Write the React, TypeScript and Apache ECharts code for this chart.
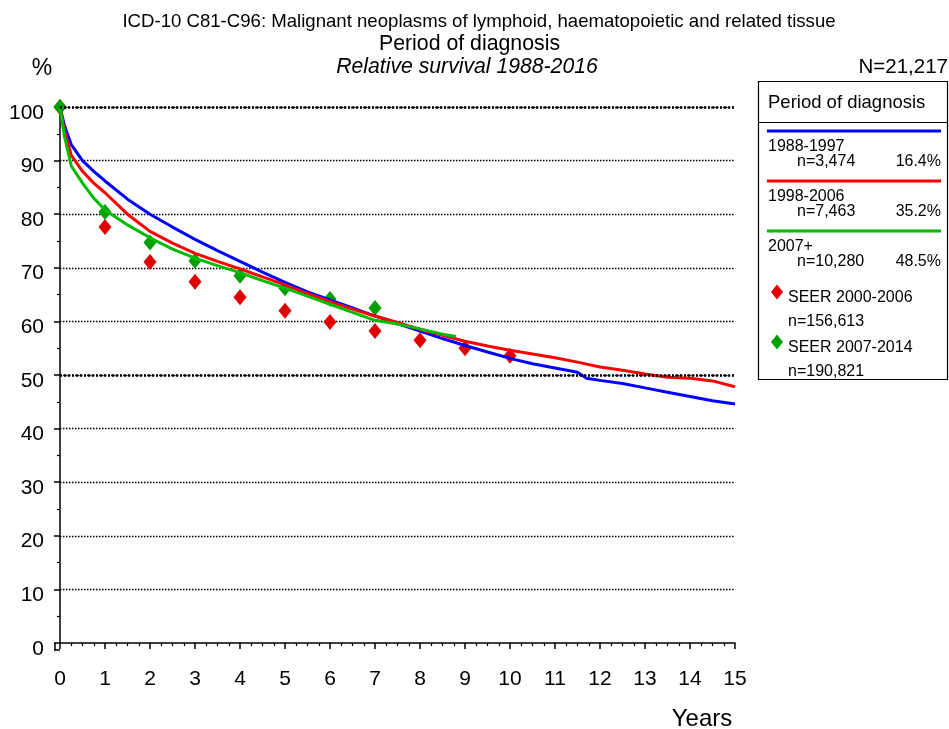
import React, { useEffect, useRef } from "react";
import * as echarts from "echarts";

const TITLE_LINE1 = "ICD-10 C81-C96: Malignant neoplasms of lymphoid, haematopoietic and related tissue";
const TITLE_LINE2 = "Period of diagnosis";
const TITLE_LINE3 = "Relative survival 1988-2016";
const Y_UNIT = "%";
const TOTAL_N = "N=21,217";
const X_NAME = "Years";

const period1988Years = [0, 0.1, 0.25, 0.5, 0.75, 1, 1.5, 2, 2.5, 3, 3.5, 4, 4.5, 5, 5.5, 6, 6.5, 7, 7.5, 8, 8.5, 9, 9.5, 10, 10.5, 11, 11.5, 11.7, 12, 12.5, 13, 13.5, 14, 14.5, 15];
const period1988Values = [100, 96.5, 93, 90, 88, 86.2, 82.8, 80, 77.6, 75.3, 73.2, 71.2, 69.2, 67.3, 65.5, 64, 62.5, 61, 59.6, 58.2, 56.8, 55.5, 54.3, 53.1, 52.1, 51.3, 50.5, 49.4, 49, 48.4, 47.6, 46.8, 46, 45.2, 44.6];

const period1998Years = [0, 0.1, 0.25, 0.5, 0.75, 1, 1.5, 2, 2.5, 3, 3.5, 4, 4.5, 5, 5.5, 6, 6.5, 7, 7.5, 8, 8.5, 9, 9.5, 10, 10.5, 11, 11.5, 12, 12.5, 13, 13.5, 14, 14.5, 15];
const period1998Values = [100, 95.5, 91, 88, 85.8, 84, 80, 76.8, 74.6, 72.7, 71.2, 69.8, 68.3, 66.8, 65.2, 63.7, 62.3, 61, 59.8, 58.5, 57.4, 56.3, 55.4, 54.6, 53.9, 53.2, 52.4, 51.5, 50.9, 50.2, 49.6, 49.4, 48.9, 47.8];

const period2007Years = [0, 0.1, 0.25, 0.5, 0.75, 1, 1.5, 2, 2.5, 3, 3.5, 4, 4.5, 5, 5.5, 6, 6.5, 7, 7.5, 8, 8.5, 8.8];
const period2007Values = [100, 94.5, 89, 85.8, 83, 80.8, 78, 75.6, 73.5, 71.8, 70.4, 69.1, 67.6, 66.2, 64.7, 63.2, 61.7, 60.2, 59.5, 58.6, 57.6, 57.2];

const seer2000Years = [0, 1, 2, 3, 4, 5, 6, 7, 8, 9, 10];
const seer2000Values = [100, 77.6, 71.1, 67.4, 64.5, 62, 59.9, 58.2, 56.5, 55, 53.6];

const seer2007Years = [0, 1, 2, 3, 4, 5, 6, 7];
const seer2007Values = [100, 80.4, 74.7, 71.3, 68.5, 66.2, 64.2, 62.5];

const legendTitle = "Period of diagnosis";
const periodNames = ["1988-1997", "1998-2006", "2007+"];
const periodCounts = ["n=3,474", "n=7,463", "n=10,280"];
const periodShares = ["16.4%", "35.2%", "48.5%"];
const seerNames = ["SEER 2000-2006", "SEER 2007-2014"];
const seerCounts = ["n=156,613", "n=190,821"];

const BLUE = "#0000ff";
const RED = "#ff0000";
const GREEN = "#00bb00";
const RED_MARK = "#e00000";
const GREEN_MARK = "#00a000";
const FONT = '"Liberation Sans", Arial, sans-serif';

const zip = (xs: number[], ys: number[]) => xs.map((x, i) => [x, ys[i]]);

export default function App() {
  const ref = useRef<HTMLDivElement>(null);
  useEffect(() => {
    if (!ref.current) return;
    const chart = echarts.init(ref.current, undefined, { renderer: "svg" });
    const txt = (text: string, x: number, y: number, size: number, align = "left", italic = false) => ({
      type: "text",
      x,
      y,
      silent: true,
      style: {
        text,
        fill: "#000",
        font: `${italic ? "italic " : ""}${size}px ${FONT}`,
        textAlign: align,
        textVerticalAlign: "middle",
      },
    });
    const lineColors = [BLUE, RED, GREEN];
    const lineYs = [131, 181, 231];
    const legendEls: any[] = [
      {
        type: "rect",
        shape: { x: 758.5, y: 81.5, width: 189, height: 298 },
        style: { fill: "#fff", stroke: "#000", lineWidth: 1.2 },
        silent: true,
      },
      {
        type: "line",
        shape: { x1: 758.5, y1: 122.5, x2: 947.5, y2: 122.5 },
        style: { stroke: "#000", lineWidth: 1.2 },
        silent: true,
      },
      txt(legendTitle, 768, 101, 18.5),
    ];
    periodNames.forEach((name, i) => {
      const y0 = lineYs[i];
      legendEls.push({
        type: "line",
        shape: { x1: 767, y1: y0, x2: 941, y2: y0 },
        style: { stroke: lineColors[i], lineWidth: 3 },
        silent: true,
      });
      legendEls.push(txt(name, 768, y0 + 14.5, 16));
      legendEls.push(txt(periodCounts[i], 797, y0 + 29.5, 16));
      legendEls.push(txt(periodShares[i], 941, y0 + 29.5, 16, "right"));
    });
    const markColors = [RED_MARK, GREEN_MARK];
    const markYs = [292, 342];
    seerNames.forEach((name, i) => {
      const y0 = markYs[i];
      legendEls.push({
        type: "polygon",
        shape: { points: [[777, y0 - 7.5], [783, y0], [777, y0 + 7.5], [771, y0]] },
        style: { fill: markColors[i] },
        silent: true,
      });
      legendEls.push(txt(name, 788, y0 + 4, 16));
      legendEls.push(txt(seerCounts[i], 788, y0 + 28.5, 16));
    });

    chart.setOption({
      animation: false,
      grid: { left: 60, right: 214, top: 107, bottom: 86, containLabel: false },
      xAxis: {
        type: "value",
        min: 0,
        max: 15,
        interval: 1,
        offset: 7,
        axisLine: { show: true, lineStyle: { color: "#000", width: 1.5 } },
        axisTick: { show: true, length: 6, lineStyle: { color: "#000", width: 1.5 } },
        minorTick: { show: true, splitNumber: 4, length: 3, lineStyle: { color: "#000", width: 1.2 } },
        axisLabel: { fontSize: 21, color: "#000", margin: 17, fontFamily: FONT },
        splitLine: { show: false },
      },
      yAxis: {
        type: "value",
        min: 0,
        max: 100,
        interval: 10,
        offset: 5,
        axisLine: { show: true, lineStyle: { color: "#000", width: 1.5 } },
        axisTick: { show: true, length: 6, lineStyle: { color: "#000", width: 1.5 } },
        minorTick: { show: true, splitNumber: 2, length: 3, lineStyle: { color: "#000", width: 1.2 } },
        axisLabel: {
          color: "#000",
          margin: 11,
          formatter: "{v|{value}}",
          rich: { v: { fontSize: 21, color: "#000", fontFamily: FONT, padding: [8, 0, 0, 0] } },
        },
        splitLine: {
          show: true,
          showMinLine: false,
          lineStyle: { color: "#000", width: 1.3, type: [1.5, 1.5] },
        },
      },
      series: [
        {
          type: "line",
          name: periodNames[0],
          data: zip(period1988Years, period1988Values),
          symbol: "none",
          lineStyle: { color: BLUE, width: 3 },
          markLine: {
            silent: true,
            symbol: ["none", "none"],
            label: { show: false },
            lineStyle: { color: "#000", width: 2.5, type: [2, 2] },
            data: [{ yAxis: 100 }, { yAxis: 50 }],
          },
        },
        {
          type: "line",
          name: periodNames[1],
          data: zip(period1998Years, period1998Values),
          symbol: "none",
          lineStyle: { color: RED, width: 3 },
        },
        {
          type: "line",
          name: periodNames[2],
          data: zip(period2007Years, period2007Values),
          symbol: "none",
          lineStyle: { color: GREEN, width: 3 },
        },
        {
          type: "scatter",
          name: seerNames[0],
          data: zip(seer2000Years, seer2000Values),
          symbol: "diamond",
          symbolSize: [13, 16],
          itemStyle: { color: RED_MARK, opacity: 1 },
        },
        {
          type: "scatter",
          name: seerNames[1],
          data: zip(seer2007Years, seer2007Values),
          symbol: "diamond",
          symbolSize: [13, 16],
          itemStyle: { color: GREEN_MARK, opacity: 1 },
        },
      ],
      graphic: [
        txt(TITLE_LINE1, 479, 20.5, 18.6, "center"),
        txt(TITLE_LINE2, 469.5, 43, 21.3, "center"),
        txt(TITLE_LINE3, 467, 65, 21.2, "center", true),
        txt(Y_UNIT, 42, 67, 23, "center"),
        txt(TOTAL_N, 948, 65, 20.5, "right"),
        txt(X_NAME, 702, 717, 24, "center"),
        {
          type: "line",
          silent: true,
          shape: { x1: 55, y1: 643, x2: 55, y2: 650.75 },
          style: { stroke: "#000", lineWidth: 1.5 },
        },
        {
          type: "line",
          silent: true,
          shape: { x1: 54.25, y1: 650, x2: 60, y2: 650 },
          style: { stroke: "#000", lineWidth: 1.5 },
        },
        ...legendEls,
      ],
    });
    return () => chart.dispose();
  }, []);
  return <div ref={ref} style={{ position: "fixed", left: 0, top: 0, width: 949, height: 729 }} />;
}
